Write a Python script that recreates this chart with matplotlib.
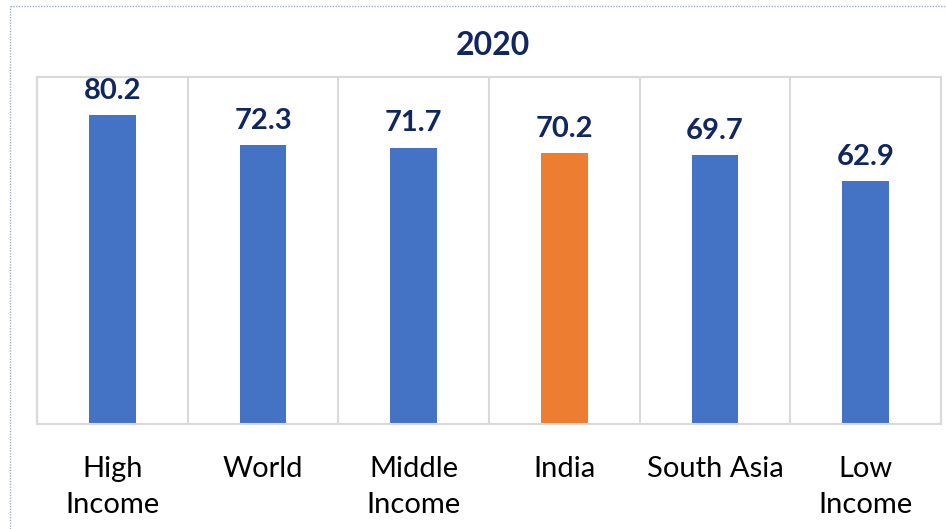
import matplotlib.pyplot as plt
from matplotlib.lines import Line2D

categories = ["High\nIncome", "World", "Middle\nIncome", "India", "South Asia", "Low\nIncome"]
values = [80.2, 72.3, 71.7, 70.2, 69.7, 62.9]
colors = ["#4472C4", "#4472C4", "#4472C4", "#ED7D31", "#4472C4", "#4472C4"]

plt.rcParams['font.family'] = ['Lato', 'DejaVu Sans']

fig = plt.figure(figsize=(9.46, 5.29), dpi=100)
ax = fig.add_axes([37 / 946, 1 - 424 / 529, 904 / 946, 347 / 529])

x = range(len(categories))
ax.bar(x, values, width=0.31, color=colors, zorder=2)

for i, v in enumerate(values):
    ax.annotate(f"{v:.1f}", (i, v), xytext=(0, 8), textcoords="offset points",
                ha="center", va="bottom", fontsize=21, fontweight="bold",
                color="#0F2660")

ax.set_xlim(-0.5, len(categories) - 0.5)
ax.set_ylim(0, 90)
for b in range(len(categories) + 1):
    ax.axvline(b - 0.5, color="#d9d9d9", lw=1.5, zorder=1)
for s in ax.spines.values():
    s.set_color("#d9d9d9")
    s.set_linewidth(1.5)

ax.set_yticks([])
ax.set_xticks(list(x))
ax.set_xticklabels(categories, fontsize=21, linespacing=1.5)
ax.tick_params(axis="x", length=0, pad=23)

fig.text(0.521, 1 - 46 / 529, "2020", ha="center", va="center",
         fontsize=23, fontweight="bold", color="#0F2660")

# dotted outer border
fig.add_artist(Line2D([10 / 946, 10 / 946], [0, 1 - 6 / 529], transform=fig.transFigure,
                      color="#9fb0c8", lw=1, ls=(0, (1, 1))))
fig.add_artist(Line2D([10 / 946, 1], [1 - 6 / 529, 1 - 6 / 529], transform=fig.transFigure,
                      color="#9fb0c8", lw=1, ls=(0, (1, 1))))

fig.savefig("out.png", dpi=100)
